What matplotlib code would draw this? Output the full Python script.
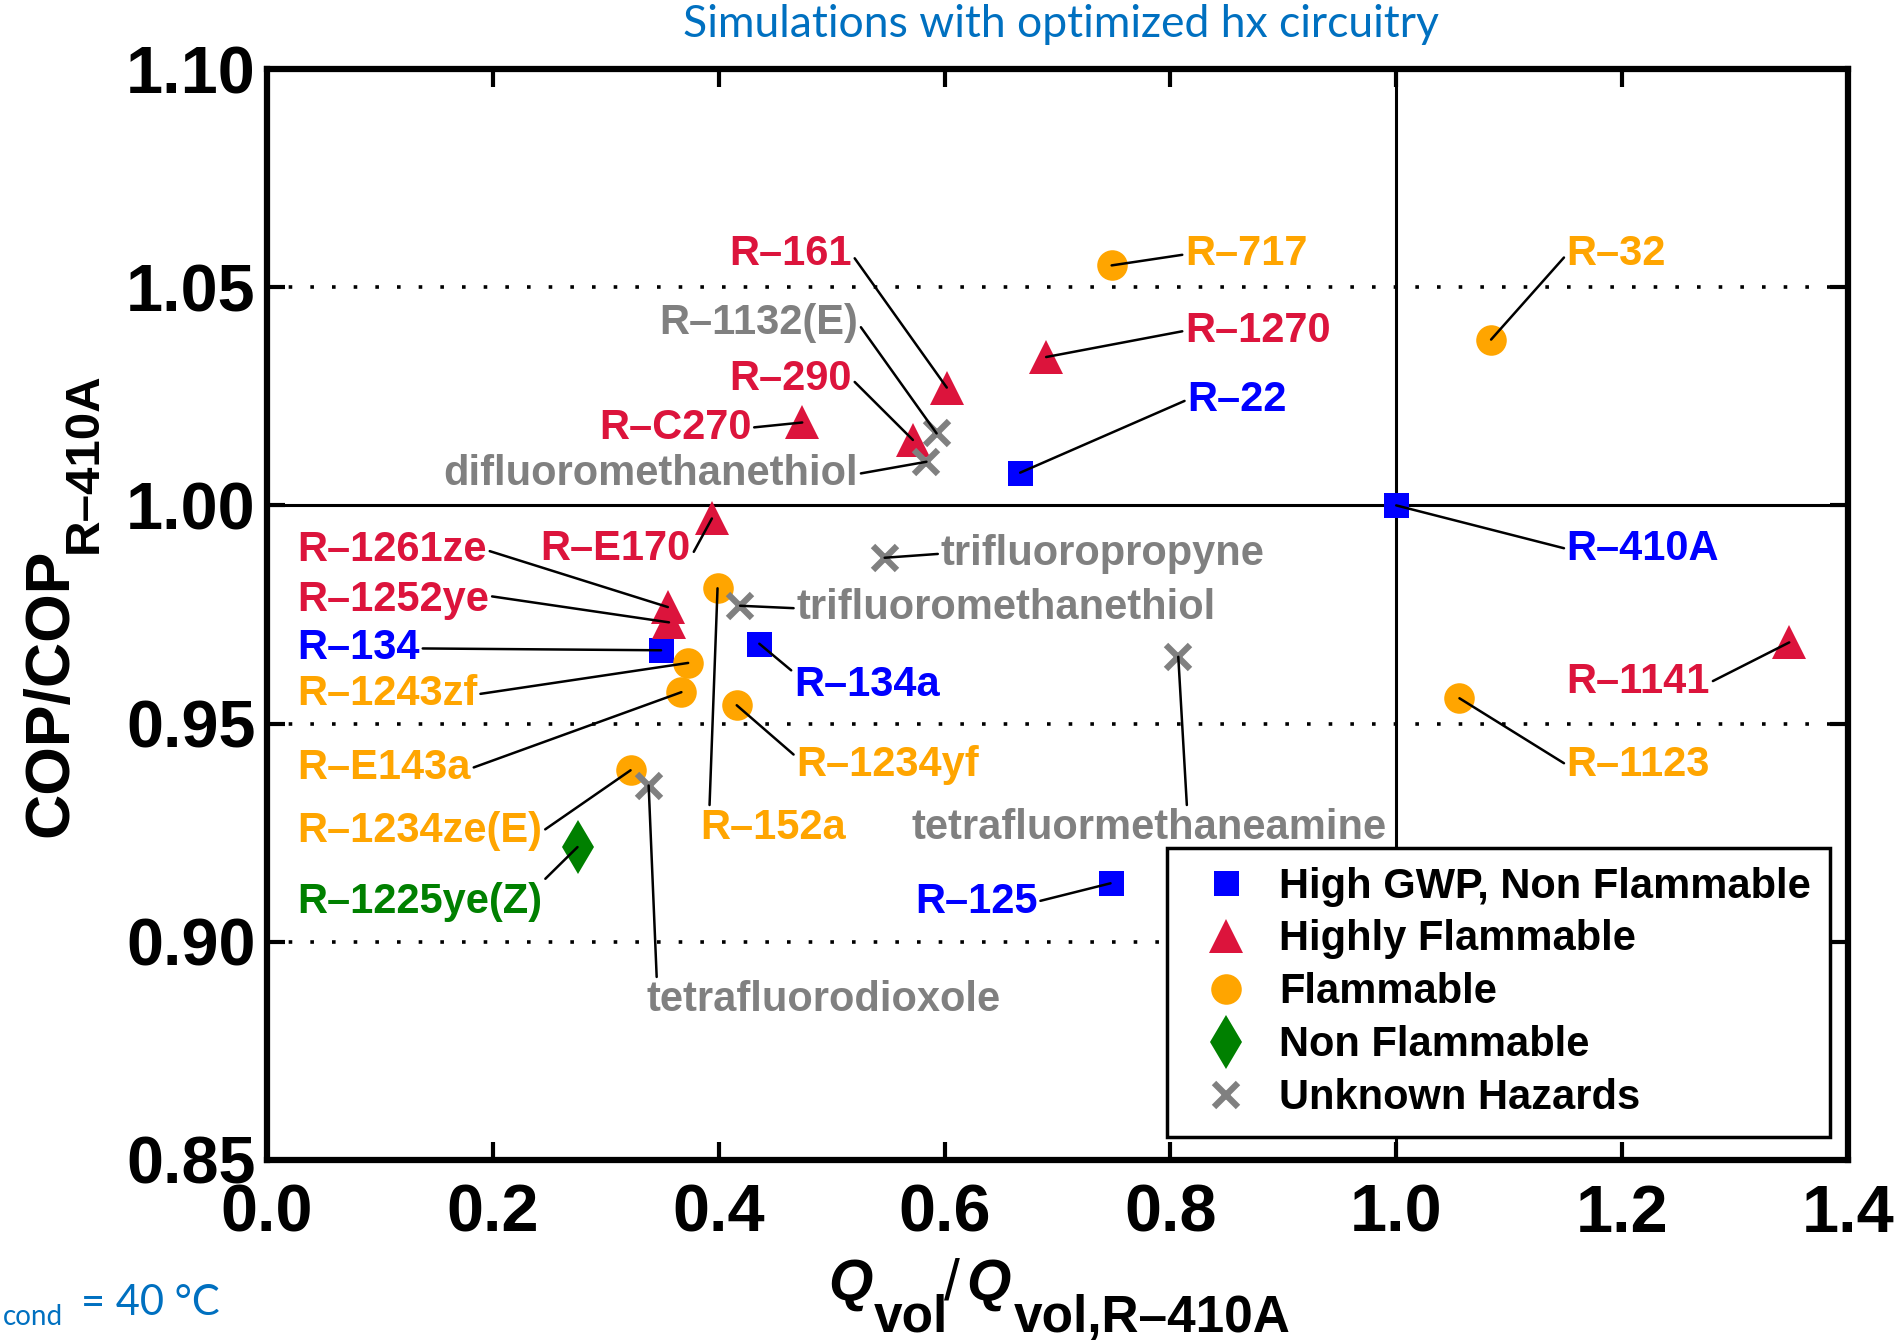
import numpy as np
import matplotlib
matplotlib.use('Agg')
import matplotlib.pyplot as plt

# datos
refrigerantes = ['R-717', 'R-32', 'R-1270', 'R-161', 'R-C270', 'R-290', 'R-1132(E)',
                 'difluoromethanethiol', 'R-22', 'R-410A', 'R-E170', 'trifluoropropyne',
                 'R-152a', 'trifluoromethanethiol', 'R-1261ze', 'R-1252ye', 'R-134',
                 'R-134a', 'R-1243zf', 'R-E143a', 'R-1234yf', 'tetrafluormethaneamine',
                 'R-1141', 'R-1123', 'R-1234ze(E)', 'tetrafluorodioxole', 'R-1225ye(Z)',
                 'R-125']
q_vol = [0.748, 1.084, 0.690, 0.602, 0.474, 0.572, 0.593, 0.584, 0.667, 1.000, 0.394,
         0.547, 0.399, 0.419, 0.355, 0.356, 0.349, 0.436, 0.373, 0.367, 0.416, 0.807,
         1.348, 1.056, 0.322, 0.338, 0.275, 0.747]
cop = [1.055, 1.038, 1.034, 1.027, 1.019, 1.015, 1.0165, 1.010, 1.0075, 1.000, 0.997,
       0.988, 0.981, 0.977, 0.9767, 0.9732, 0.9668, 0.9683, 0.9639, 0.9572, 0.9542, 0.9653,
       0.9686, 0.9558, 0.9393, 0.9358, 0.9217, 0.9134]
categoria = ['flam', 'flam', 'high', 'high', 'high', 'high', 'unk', 'unk', 'gwp', 'gwp',
             'high', 'unk', 'flam', 'unk', 'high', 'high', 'gwp', 'gwp', 'flam', 'flam',
             'flam', 'unk', 'high', 'flam', 'flam', 'unk', 'non', 'gwp']

categorias = ['gwp', 'high', 'flam', 'non', 'unk']
nombres_cat = ['High GWP, Non Flammable', 'Highly Flammable', 'Flammable', 'Non Flammable',
               'Unknown Hazards']

ticks_x = [0.0, 0.2, 0.4, 0.6, 0.8, 1.0, 1.2, 1.4]
ticks_y = [0.85, 0.90, 0.95, 1.00, 1.05, 1.10]
lineas_punteadas = [1.05, 0.95, 0.90]

# estilo por categoria
colores = {'gwp': '#0000FF', 'high': '#DC143C', 'flam': '#FFA500', 'non': '#008000', 'unk': '#808080'}
marcadores = {'gwp': 's', 'high': '^', 'flam': 'o', 'non': 'd', 'unk': 'x'}
tamanos = {'gwp': 18, 'high': 25, 'flam': 22, 'non': 27, 'unk': 17}

# posicion de cada etiqueta (x, y, alineacion, punto de salida de la linea)
etiquetas = {
    'R-161': (0.518, 1.055, 'right', (1, 0.5)),
    'R-1132(E)': (0.5235, 1.0392, 'right', (1, 0.5)),
    'R-290': (0.518, 1.0264, 'right', (1, 0.5)),
    'R-C270': (0.429, 1.0153, 'right', (1, 0.5)),
    'difluoromethanethiol': (0.5235, 1.0047, 'right', (1, 0.5)),
    'R-E170': (0.3755, 0.9875, 'right', (1, 0.3)),
    'R-1261ze': (0.027, 0.9872, 'left', (1, 0.5)),
    'R-1252ye': (0.027, 0.9758, 'left', (1, 0.6)),
    'R-134': (0.027, 0.9647, 'left', (1, 0.5)),
    'R-1243zf': (0.027, 0.9542, 'left', (1, 0.5)),
    'R-E143a': (0.027, 0.9372, 'left', (1, 0.5)),
    'R-1234ze(E)': (0.027, 0.9228, 'left', (1, 0.5)),
    'R-1225ye(Z)': (0.027, 0.9067, 'left', (1, 1)),
    'R-717': (0.813, 1.055, 'left', (0, 0.5)),
    'R-1270': (0.813, 1.0375, 'left', (0, 0.5)),
    'R-22': (0.815, 1.0217, 'left', (0, 0.5)),
    'R-32': (1.151, 1.055, 'left', (0, 0.5)),
    'R-410A': (1.151, 0.9875, 'left', (0, 0.5)),
    'R-1141': (1.151, 0.9569, 'left', (1, 0.5)),
    'R-1123': (1.151, 0.938, 'left', (0, 0.5)),
    'trifluoropropyne': (0.5965, 0.9864, 'left', (0, 0.5)),
    'trifluoromethanethiol': (0.4688, 0.9739, 'left', (0, 0.5)),
    'R-134a': (0.4667, 0.9564, 'left', (0, 0.8)),
    'R-1234yf': (0.4688, 0.938, 'left', (0, 0.7)),
    'R-152a': (0.3841, 0.9236, 'left', (0.06, 1)),
    'tetrafluormethaneamine': (0.5707, 0.9236, 'left', (0.58, 1)),
    'tetrafluorodioxole': (0.3358, 0.8842, 'left', (0.03, 1)),
    'R-125': (0.574, 0.9067, 'left', (1, 0.5)),
}

plt.rcParams['font.family'] = ['Liberation Sans', 'DejaVu Sans']
plt.rcParams['font.weight'] = 'bold'

W, H = 1900, 1343
fig = plt.figure(figsize=(W / 100, H / 100), dpi=100)
ax = fig.add_axes([0.1405, 0.1363, 0.9726 - 0.1405, 0.9486 - 0.1363])

def px(x, y):
    # pixeles de la imagen -> fraccion de la figura
    return x / W, 1 - y / H

for yl in lineas_punteadas:
    ax.axhline(yl, color='black', lw=2.6, ls=(0, (1, 5)), zorder=1)
ax.axhline(1.0, color='black', lw=2.2, zorder=1)
ax.axvline(1.0, color='black', lw=2.2, zorder=1)

q_vol = np.array(q_vol)
cop = np.array(cop)
categoria = np.array(categoria)
for cat, nombre in zip(categorias, nombres_cat):
    m = categoria == cat
    if cat == 'unk':
        ax.plot(q_vol[m], cop[m], ls='none', marker='x', ms=tamanos[cat], mew=4.5,
                color=colores[cat], label=nombre, zorder=2)
    else:
        ax.plot(q_vol[m], cop[m], ls='none', marker=marcadores[cat], ms=tamanos[cat], mew=0,
                color=colores[cat], label=nombre, zorder=2)

for nombre, xq, yc, cat in zip(refrigerantes, q_vol, cop, categoria):
    tx, ty, ha, rel = etiquetas[nombre]
    ax.annotate(nombre.replace('R-', 'R\u2013'), xy=(xq, yc), xytext=(tx, ty),
                ha=ha, va='baseline', color=colores[cat], fontsize=30, fontweight='bold',
                arrowprops=dict(arrowstyle='-', color='black', lw=1.8, relpos=rel,
                                shrinkA=0, shrinkB=0))

ax.set_xlim(0, 1.4)
ax.set_ylim(0.85, 1.10)
ax.set_xticks(ticks_x)
ax.set_xticklabels(['%.1f' % t for t in ticks_x])
ax.set_yticks(ticks_y)
ax.set_yticklabels(['%.2f' % t for t in ticks_y])
ax.tick_params(direction='in', length=13, width=3, labelsize=48, top=True, right=True)
ax.tick_params(axis='x', pad=17)
ax.tick_params(axis='y', pad=8)
for s in ax.spines.values():
    s.set_linewidth(4.5)

# etiqueta del eje y: COP/COP con subindice R-410A
fig.text(*px(67, 837), 'COP/COP', fontsize=45, rotation=90, rotation_mode='anchor',
         ha='left', va='baseline')
fig.text(*px(97, 553), 'R\u2013410A', fontsize=35.5, rotation=90, rotation_mode='anchor',
         ha='left', va='baseline')

# etiqueta del eje x: Qvol/Qvol,R-410A
fig.text(*px(828, 1300), 'Q', fontsize=41, style='italic', ha='left', va='baseline')
fig.text(*px(874, 1332), 'vol', fontsize=37, ha='left', va='baseline')
fig.text(*px(944, 1300), '/', fontsize=41, fontweight='normal', ha='left', va='baseline')
fig.text(*px(966, 1300), 'Q', fontsize=41, style='italic', ha='left', va='baseline')
fig.text(*px(1014, 1332), 'vol,R\u2013410A', fontsize=37, ha='left', va='baseline')

leg = ax.legend(loc='lower right', bbox_to_anchor=(0.9886, 0.0211), fontsize=30,
                frameon=True, fancybox=False, framealpha=1, edgecolor='black',
                borderpad=0.45, labelspacing=0.31, handlelength=1.94, handletextpad=0.32,
                borderaxespad=0, numpoints=1)
leg.get_frame().set_linewidth(2.5)

fig.text(0.5585, 0.982, 'Simulations with optimized hx circuitry', color='#0070C0',
         fontsize=32, fontweight='normal', family=['Lato', 'DejaVu Sans'],
         ha='center', va='center')
fig.text(*px(3, 1325), 'cond', color='#0070C0', fontsize=20, fontweight='normal',
         family=['Lato', 'DejaVu Sans'], ha='left', va='baseline')
fig.text(*px(81, 1315), '= 40 \u00b0C', color='#0070C0', fontsize=30, fontweight='normal',
         family=['Lato', 'DejaVu Sans'], ha='left', va='baseline')

fig.savefig('out.png', dpi=100)
